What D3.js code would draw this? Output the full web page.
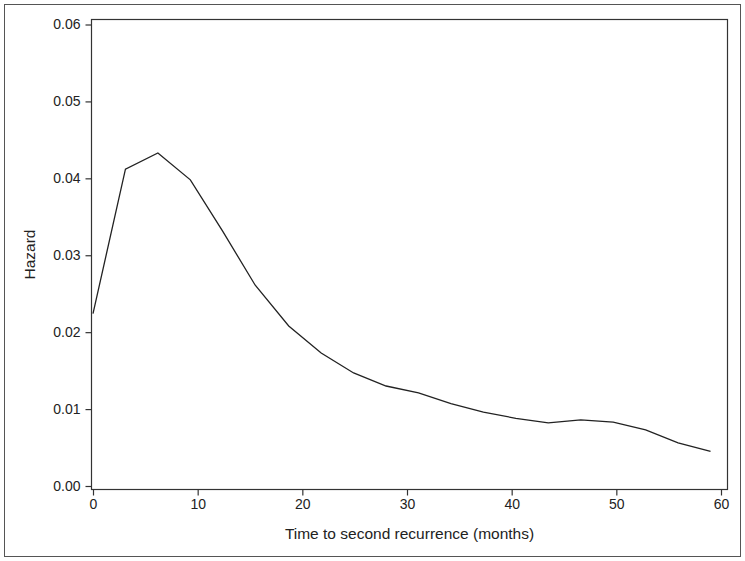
<!DOCTYPE html>
<html>
<head>
<meta charset="utf-8">
<script src="https://cdn.jsdelivr.net/npm/d3@7"></script>
<style>
  body { margin: 0; background: #fff; }
  text { font-family: "Liberation Sans", Arial, sans-serif; fill: #222; }
</style>
</head>
<body>
<div id="chart"></div>
<script>
// hazard curve
var months = [0, 3.1, 6.2, 9.3, 12.4, 15.5, 18.7, 21.8, 24.9, 28.0,
              31.1, 34.2, 37.3, 40.4, 43.5, 46.6, 49.7, 52.8, 55.9, 59.0];
var hazard = [0.0224, 0.0412, 0.0433, 0.0398, 0.0331, 0.0261, 0.0208, 0.0173, 0.0147, 0.0130,
              0.0121, 0.0107, 0.0096, 0.0088, 0.0082, 0.0086, 0.0083, 0.0073, 0.0056, 0.0045];
var xTicks = [0, 10, 20, 30, 40, 50, 60];
var yTicks = [0, 0.01, 0.02, 0.03, 0.04, 0.05, 0.06];
var xTitle = "Time to second recurrence (months)";
var yTitle = "Hazard";

var width = 745,
    height = 561;

// plot frame (window.top is taken, so use a box object)
var frame = { left: 91.5, right: 727.5, top: 19.5, bottom: 489.5 };

var x = d3.scaleLinear().domain([0, 60]).range([93, 721]);
var y = d3.scaleLinear().domain([0, 0.06]).range([486, 24.5]);

var svg = d3.select("#chart").append("svg")
  .attr("width", width)
  .attr("height", height);

// outer border
svg.append("rect")
  .attr("x", 4.5).attr("y", 4.5)
  .attr("width", 736).attr("height", 552)
  .attr("fill", "none")
  .attr("stroke", "#555")
  .attr("stroke-width", 1);

// y axis
var yAxis = svg.append("g")
  .attr("transform", "translate(" + frame.left + ",0)")
  .call(d3.axisLeft(y).tickValues(yTicks).tickSize(6).tickPadding(5)
    .tickFormat(d3.format(".2f")));
yAxis.select(".domain").remove();

// x axis
var xAxis = svg.append("g")
  .attr("transform", "translate(0," + frame.bottom + ")")
  .call(d3.axisBottom(x).tickValues(xTicks).tickSize(6).tickPadding(4));
xAxis.select(".domain").remove();

svg.selectAll(".tick line").attr("stroke", "#333").attr("stroke-width", 1.2);
svg.selectAll(".tick text")
  .attr("font-size", 14)
  .attr("font-family", "Liberation Sans, Arial, sans-serif")
  .attr("fill", "#222");

// plot frame
svg.append("rect")
  .attr("x", frame.left).attr("y", frame.top)
  .attr("width", frame.right - frame.left).attr("height", frame.bottom - frame.top)
  .attr("fill", "none")
  .attr("stroke", "#333")
  .attr("stroke-width", 1.2);

// hazard line
var line = d3.line()
  .x(function(d, i) { return x(months[i]); })
  .y(function(d) { return y(d); });

svg.append("path")
  .datum(hazard)
  .attr("d", line)
  .attr("fill", "none")
  .attr("stroke", "#222")
  .attr("stroke-width", 1.3);

// titles
svg.append("text")
  .attr("x", (frame.left + frame.right) / 2)
  .attr("y", 539)
  .attr("text-anchor", "middle")
  .attr("font-size", 15.5)
  .text(xTitle);

svg.append("text")
  .attr("transform", "translate(35," + ((frame.top + frame.bottom) / 2) + ") rotate(-90)")
  .attr("text-anchor", "middle")
  .attr("font-size", 15.5)
  .text(yTitle);
</script>
</body>
</html>
